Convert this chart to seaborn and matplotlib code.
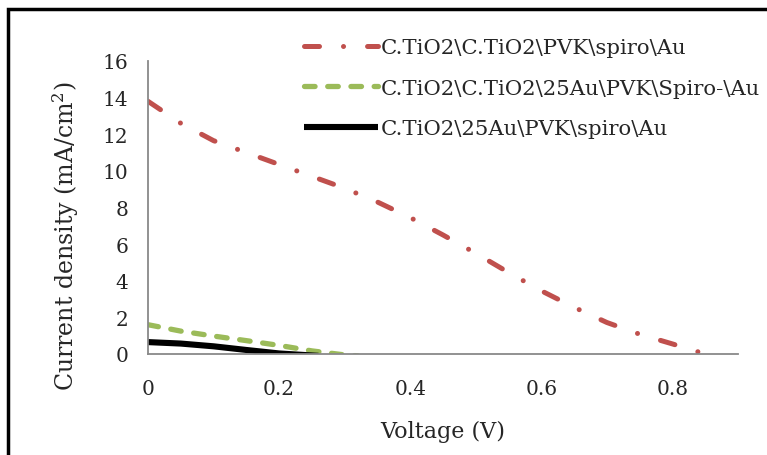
import numpy as np
import pandas as pd
import matplotlib
matplotlib.use("Agg")
import matplotlib.pyplot as plt
import seaborn as sns
from matplotlib.patches import Rectangle

# J-V curve data
v_ref = [0, 0.05, 0.1, 0.15, 0.2, 0.25, 0.3, 0.35, 0.4, 0.45, 0.5,
         0.55, 0.6, 0.65, 0.7, 0.75, 0.8, 0.85]
j_ref = [13.8, 12.6, 11.65, 11.0, 10.35, 9.7, 9.05, 8.3, 7.45, 6.5, 5.5,
         4.45, 3.45, 2.55, 1.72, 1.08, 0.55, 0.0]

v_au_mid = [0, 0.05, 0.1, 0.15, 0.2, 0.25, 0.3, 0.32]
j_au_mid = [1.6, 1.25, 0.98, 0.73, 0.47, 0.17, -0.05, -0.1]

v_au_bot = [0, 0.05, 0.1, 0.15, 0.2, 0.25, 0.26]
j_au_bot = [0.65, 0.57, 0.42, 0.22, 0.03, -0.08, -0.1]

labels = [r"C.TiO2\C.TiO2\PVK\spiro\Au",
          r"C.TiO2\C.TiO2\25Au\PVK\Spiro-\Au",
          r"C.TiO2\25Au\PVK\spiro\Au"]

sns.set_style("white")
plt.rcParams["font.family"] = ["DejaVu Serif"]
plt.rcParams["mathtext.fontset"] = "dejavuserif"

fig = plt.figure(figsize=(7.67, 4.56), dpi=100)
ax = fig.add_axes([148 / 767, 1 - 355 / 456, (738 - 148) / 767, (355 - 62) / 456])

# outer border of the chart frame
fig.patches.append(Rectangle((8 / 767, -0.1), 1.2, 1 - 10 / 456 + 0.1,
                             transform=fig.transFigure, fill=False,
                             edgecolor="black", linewidth=2.5))

sns.lineplot(x=v_ref, y=j_ref, ax=ax, color="#C0504D", lw=3.6,
             label=labels[0])
sns.lineplot(x=v_au_mid, y=j_au_mid, ax=ax, color="#9BBB59", lw=3.8,
             label=labels[1])
sns.lineplot(x=v_au_bot, y=j_au_bot, ax=ax, color="black", lw=4.4,
             label=labels[2])

lines = ax.get_lines()
lines[0].set_dashes([3.0, 4.8, 0.01, 4.8])
lines[0].set_dash_capstyle("round")
lines[1].set_dashes([2.0, 2.4])
lines[1].set_dash_capstyle("round")
lines[2].set_solid_capstyle("butt")

ax.set_xlim(0, 0.9)
ax.set_ylim(0, 16)
ax.set_xticks([0, 0.2, 0.4, 0.6, 0.8])
ax.set_xticklabels(["0", "0.2", "0.4", "0.6", "0.8"])
ax.set_yticks(range(0, 17, 2))
ax.tick_params(labelsize=14.5, length=0)
ax.tick_params(axis="x", pad=18)
ax.tick_params(axis="y", pad=14)

for s in ["top", "right"]:
    ax.spines[s].set_visible(False)
for s in ["left", "bottom"]:
    ax.spines[s].set_color("#898989")
    ax.spines[s].set_linewidth(1.3)

ax.set_xlabel("Voltage (V)", fontsize=16)
ax.set_ylabel("Current density (mA/cm$^2$)", fontsize=17)
ax.xaxis.set_label_coords(0.5, -0.226)
ax.yaxis.set_label_coords(-0.114, 0.406)

leg = ax.legend(loc="upper left", bbox_to_anchor=(0.25, 1.106), frameon=False,
                fontsize=15.3, handlelength=3.5, handletextpad=0.1,
                labelspacing=1.0, borderaxespad=0)

fig.savefig("out.png", dpi=100)
